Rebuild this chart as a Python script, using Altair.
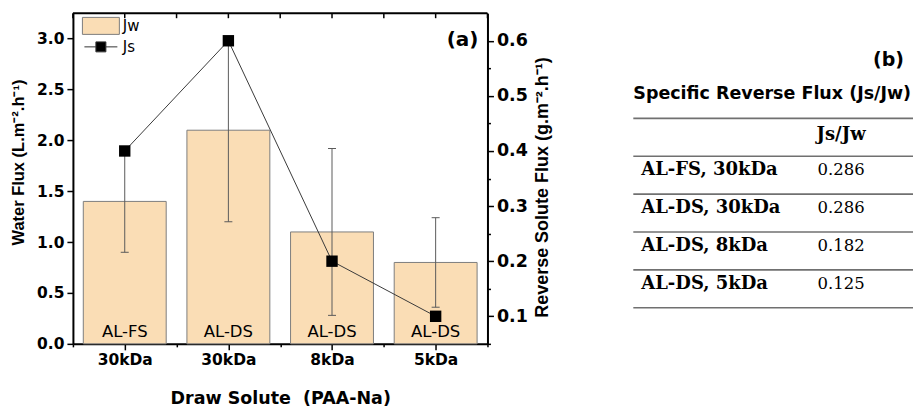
import json
import altair as alt
import pandas as pd

# ---- data -------------------------------------------------------------
solutes = ["30kDa", "30kDa", "8kDa", "5kDa"]
orientations = ["AL-FS", "AL-DS", "AL-DS", "AL-DS"]
water_flux = [1.4, 2.1, 1.1, 0.8]          # Jw, L m-2 h-1
water_flux_err = [0.5, 0.9, 0.82, 0.44]
reverse_flux = [0.4, 0.6, 0.2, 0.1]        # Js, g m-2 h-1

series = ["Jw", "Js"]
panel_labels = ["(a)", "(b)"]

table_title = "Specific Reverse Flux (Js/Jw)"
table_header = "Js/Jw"
table_rows = ["AL-FS, 30kDa", "AL-DS, 30kDa", "AL-DS, 8kDa", "AL-DS, 5kDa"]
specific_flux = [0.286, 0.286, 0.182, 0.125]

# ---- styling ----------------------------------------------------------
PEACH = "#FADDB5"
BAR_EDGE = "#7d7d7d"
ERR = "#5a5a5a"
SANS = "DejaVu Sans"
ARIAL = "Liberation Sans"
SERIF = "DejaVu Serif"

W, H = 415, 331
n = len(solutes)

df = pd.DataFrame({
    "pos": list(range(n)),
    "solute": solutes,
    "mode": orientations,
    "jw": water_flux,
    "err": water_flux_err,
    "js": reverse_flux,
})

x_scale = alt.Scale(domain=[-0.5, n - 0.5], nice=False, zero=False)
x_ticks = [i / 2 for i in range(-1, 2 * n)]
x_axis = alt.Axis(
    values=x_ticks,
    labelExpr=f"datum.value == round(datum.value) ? {json.dumps(solutes)}[datum.value] : ''",
    tickSize={"condition": {"test": "datum.value != round(datum.value)", "value": 3}, "value": 6},
    labelFont=SANS, labelFontWeight="bold", labelFontSize=15.5, labelColor="black",
    labelPadding=3, labelOverlap=False, labelFlush=False,
    titleFont=SANS, titleFontWeight="bold", titleFontSize=17.5, titleColor="black",
    titlePadding=21,
    domainColor="black", domainWidth=2, tickColor="black", tickWidth=1.5, grid=False,
)
x_title = "Draw Solute \u00a0(PAA-Na)"


def xpos(field):
    return alt.X(field, type="quantitative", scale=x_scale, axis=x_axis, title=x_title)


yl_scale = alt.Scale(domain=[0, 3.25], nice=False, zero=False)
yl_axis = alt.Axis(
    values=[i / 4 for i in range(0, 13)],
    labelExpr="abs(datum.value * 2 - round(datum.value * 2)) < 0.001 ? format(datum.value, '.1f') : ''",
    tickSize={"condition": {"test": "abs(datum.value * 2 - round(datum.value * 2)) > 0.001", "value": 3}, "value": 6},
    labelFont=SANS, labelFontWeight="bold", labelFontSize=15.5, labelColor="black",
    labelPadding=3, labelOverlap=False,
    titleFont=ARIAL, titleFontWeight="bold", titleFontSize=16.5, titleColor="black",
    titleAngle=270, titleBaseline="middle", titleAlign="center", titleX=-54, titleY=149,
    domainColor="black", domainWidth=2, tickColor="black", tickWidth=1.5, grid=False,
)
yl_title = "Water Flux (L.m\u207b\u00b2.h\u207b\u00b9)"


def yleft(field):
    return alt.Y(field, type="quantitative", scale=yl_scale, axis=yl_axis, title=yl_title)


yr_scale = alt.Scale(domain=[0.05, 0.65], nice=False, zero=False)
yr_axis = alt.Axis(
    orient="right",
    values=[round(0.05 * i, 2) for i in range(1, 13)],
    labelExpr="abs(datum.value * 10 - round(datum.value * 10)) < 0.001 ? format(datum.value, '.1f') : ''",
    tickSize={"condition": {"test": "abs(datum.value * 10 - round(datum.value * 10)) > 0.001", "value": 3}, "value": 6},
    labelFont=SANS, labelFontWeight="bold", labelFontSize=17.5, labelColor="black",
    labelPadding=3, labelOverlap=False,
    titleFont=ARIAL, titleFontWeight="bold", titleFontSize=18, titleColor="black",
    titleAngle=270, titleBaseline="middle", titleAlign="center", titleX=55, titleY=174,
    domainColor="black", domainWidth=2, tickColor="black", tickWidth=1.5, grid=False,
)
yr_title = "Reverse Solute Flux (g.m\u207b\u00b2.h\u207b\u00b9)"

base = alt.Chart(df)

bars = base.transform_calculate(
    x0="datum.pos - 0.4", x1="datum.pos + 0.4"
).mark_bar(fill=PEACH, stroke=BAR_EDGE, strokeWidth=1).encode(
    x=xpos("x0"), x2="x1:Q", y=yleft("jw"), y2=alt.datum(0),
)

err_base = base.transform_calculate(lo="datum.jw - datum.err", hi="datum.jw + datum.err")
err_stem = err_base.mark_rule(color=ERR, strokeWidth=1).encode(
    x=xpos("pos"), y=yleft("lo"), y2="hi:Q"
)
err_lo = err_base.mark_rule(color=ERR, strokeWidth=1, xOffset=-4, x2Offset=4).encode(
    x=xpos("pos"), x2="pos:Q", y=yleft("lo")
)
err_hi = err_base.mark_rule(color=ERR, strokeWidth=1, xOffset=-4, x2Offset=4).encode(
    x=xpos("pos"), x2="pos:Q", y=yleft("hi")
)

bar_text = base.mark_text(
    font=SANS, fontSize=16.5, color="black", baseline="alphabetic", dy=-7
).encode(x=xpos("pos"), y=alt.datum(0), text="mode:N")

# top frame line and its inward ticks
frame_df = pd.DataFrame({"tick": x_ticks})
top_spine = alt.Chart(pd.DataFrame({"a": [0]})).mark_rule(color="black", strokeWidth=2).encode(
    x=alt.datum(-0.5, scale=x_scale), x2=alt.datum(n - 0.5), y=alt.value(0)
)
top_ticks = alt.Chart(frame_df).mark_rule(color="black", strokeWidth=1.5).encode(
    x=xpos("tick"), y=alt.value(0), y2=alt.value(5)
)

panel_a = alt.Chart(pd.DataFrame({"t": [panel_labels[0]]})).mark_text(
    font=SANS, fontWeight="bold", fontSize=20, color="black", align="right", baseline="middle"
).encode(x=alt.value(W - 9), y=alt.value(27), text="t:N")

# legend built from shape/fill/stroke scales on an invisible layer
rect_path = "M-1.85,-0.85H1.85V0.85H-1.85Z"
js_path = "M-1.65,0H-0.5M0.5,0H1.65M-0.5,-0.5H0.5V0.5H-0.5Z"
leg = alt.Legend(
    orient="none", legendX=17.5, legendY=2.2, title=None, symbolSize=400,
    symbolStrokeWidth=1, labelFont=SANS, labelFontSize=15, labelColor="black",
    labelOffset=11.5, rowPadding=0, padding=0, direction="vertical",
)
legend_layer = alt.Chart(pd.DataFrame({"series": series})).mark_point(
    filled=True, size=0, opacity=1, strokeWidth=1
).encode(
    shape=alt.Shape("series:N", scale=alt.Scale(domain=series, range=[rect_path, js_path]), legend=leg),
    fill=alt.Fill("series:N", scale=alt.Scale(domain=series, range=[PEACH, "black"]), legend=leg),
    stroke=alt.Stroke("series:N", scale=alt.Scale(domain=series, range=[BAR_EDGE, "#333333"]), legend=leg),
)

left = alt.layer(bars, err_stem, err_lo, err_hi, bar_text, top_spine, top_ticks, panel_a, legend_layer)


def yright(field):
    return alt.Y(field, type="quantitative", scale=yr_scale, axis=yr_axis, title=yr_title)


js_line = base.mark_line(color="#3a3a3a", strokeWidth=1).encode(x=xpos("pos"), y=yright("js"))
js_pts = base.mark_square(size=130, color="black", opacity=1).encode(x=xpos("pos"), y=yright("js"))
right = alt.layer(js_line, js_pts)

main = alt.layer(left, right).resolve_scale(y="independent").properties(width=W, height=H)

# ---- table panel ------------------------------------------------------
TW = 280
row_px = 37.9
first_rule = 105.3
t_scale = alt.Scale(domain=[-first_rule / row_px, (H - first_rule) / row_px], reverse=True,
                    nice=False, zero=False)
t_y = lambda f: alt.Y(f, type="quantitative", scale=t_scale, axis=None)

rules_df = pd.DataFrame({"r": list(range(len(table_rows) + 2))})
rows_df = pd.DataFrame({
    "r": [i + 1 for i in range(len(table_rows))],
    "label": table_rows,
    "value": specific_flux,
})

t_rules = alt.Chart(rules_df).mark_rule(color="#707070", strokeWidth=1.6).encode(
    y=t_y("r"), x=alt.value(0), x2=alt.value(TW)
)
t_header = alt.Chart(pd.DataFrame({"r": [0], "h": [table_header]})).mark_text(
    font=SERIF, fontWeight="bold", fontSize=18, color="black", align="center",
    baseline="middle", dy=17
).encode(y=t_y("r"), x=alt.value(208), text="h:N")
t_labels = alt.Chart(rows_df).mark_text(
    font=SERIF, fontWeight="bold", fontSize=18, color="black", align="left",
    baseline="middle", dy=14
).encode(y=t_y("r"), x=alt.value(8), text="label:N")
t_values = alt.Chart(rows_df).mark_text(
    font=SERIF, fontSize=16.5, color="black", align="center", baseline="middle", dy=14
).encode(y=t_y("r"), x=alt.value(208), text=alt.Text("value:Q", format=".3f"))
t_title = alt.Chart(pd.DataFrame({"t": [table_title]})).mark_text(
    font=SANS, fontWeight="bold", fontSize=17.5, color="black", align="left", baseline="middle"
).encode(x=alt.value(0), y=alt.value(81), text="t:N")
panel_b = alt.Chart(pd.DataFrame({"t": [panel_labels[1]]})).mark_text(
    font=SANS, fontWeight="bold", fontSize=19, color="black", align="right", baseline="middle"
).encode(x=alt.value(271), y=alt.value(47), text="t:N")

table = alt.layer(t_rules, t_header, t_labels, t_values, t_title, panel_b).properties(width=TW, height=H)

chart = alt.hconcat(main, table, spacing=81).properties(
    padding={"left": 11, "top": 12, "right": 0, "bottom": 0},
    background="white",
).configure_view(stroke=None)

chart.save("out.html", embed_options={"renderer": "svg", "actions": False})
